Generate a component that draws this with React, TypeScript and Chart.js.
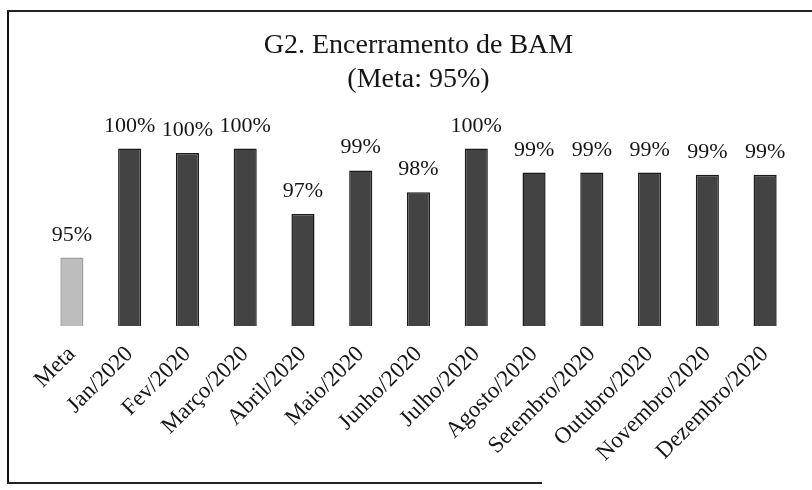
import React, { useEffect, useRef } from "react";
import { Chart, registerables } from "chart.js";

Chart.register(...registerables);

const categories = [
  "Meta",
  "Jan/2020",
  "Fev/2020",
  "Março/2020",
  "Abril/2020",
  "Maio/2020",
  "Junho/2020",
  "Julho/2020",
  "Agosto/2020",
  "Setembro/2020",
  "Outubro/2020",
  "Novembro/2020",
  "Dezembro/2020",
];
const values = [95, 100, 99.8, 100, 97, 99, 98, 100, 98.9, 98.9, 98.9, 98.8, 98.8];
const titleLines = ["G2. Encerramento de BAM", "(Meta: 95%)"];

const yMin = 91.86;
const yMax = 102.04;

const FONT = "'Liberation Serif', 'Times New Roman', serif";

const valueLabelPlugin = {
  id: "valueLabels",
  afterDatasetsDraw(chart: any) {
    const ctx = chart.ctx;
    const meta = chart.getDatasetMeta(0);
    ctx.save();
    ctx.font = `22px ${FONT}`;
    ctx.fillStyle = "#151515";
    ctx.textAlign = "center";
    ctx.textBaseline = "alphabetic";
    meta.data.forEach((bar: any, i: number) => {
      const v = values[i];
      ctx.fillText(`${Math.round(v)}%`, bar.x, bar.y - 17);
    });
    ctx.restore();
  },
};

export default function App() {
  const canvasRef = useRef<HTMLCanvasElement | null>(null);

  useEffect(() => {
    if (!canvasRef.current) return;
    const chart = new Chart(canvasRef.current, {
      type: "bar",
      data: {
        labels: categories,
        datasets: [
          {
            data: values,
            backgroundColor: values.map((_, i) => (i === 0 ? "#bdbdbd" : "#434343")),
            borderColor: values.map((_, i) => (i === 0 ? "#a0a0a0" : "#1a1a1a")),
            borderWidth: 1.5,
            barPercentage: 0.4,
            categoryPercentage: 1.0,
          },
        ],
      },
      options: {
        animation: false,
        responsive: false,
        maintainAspectRatio: false,
        layout: { padding: { left: 43, right: 18, top: 0, bottom: 8 } },
        plugins: {
          legend: { display: false },
          tooltip: { enabled: false },
          title: {
            display: true,
            text: titleLines,
            color: "#151515",
            font: { family: FONT, size: 28, weight: "normal" },
            lineHeight: 1.15,
            padding: { top: 29, bottom: 8 },
          },
        },
        scales: {
          x: {
            grid: { display: false, drawTicks: false },
            border: { display: false },
            ticks: {
              autoSkip: false,
              minRotation: 45,
              maxRotation: 45,
              padding: 15,
              color: "#151515",
              font: { family: FONT, size: 23 },
            },
          },
          y: {
            display: false,
            min: yMin,
            max: yMax,
          },
        },
      },
      plugins: [valueLabelPlugin],
    });
    return () => chart.destroy();
  }, []);

  return (
    <div style={{ position: "absolute", left: 0, top: 0, width: 812, height: 490, background: "#fff" }}>
      <canvas ref={canvasRef} width={812} height={490} style={{ position: "absolute", left: 0, top: 0 }} />
      <div style={{ position: "absolute", left: 7, top: 10, width: 2, height: 474, background: "#111" }} />
      <div style={{ position: "absolute", left: 7, top: 10, width: 805, height: 2, background: "#222" }} />
      <div style={{ position: "absolute", left: 7, top: 482, width: 535, height: 2, background: "#222" }} />
    </div>
  );
}
